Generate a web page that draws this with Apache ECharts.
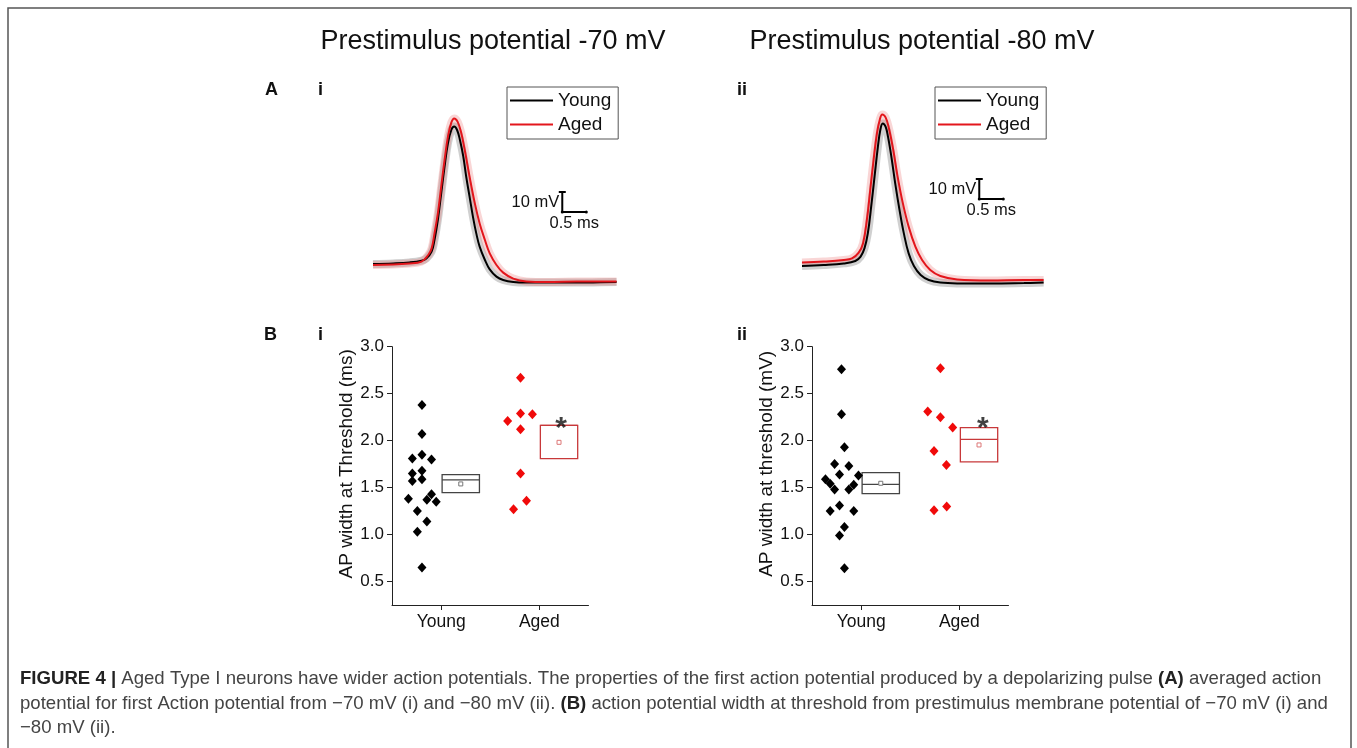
<!DOCTYPE html>
<html>
<head>
<meta charset="utf-8">
<script src="https://cdn.jsdelivr.net/npm/echarts@6/dist/echarts.min.js"></script>
<style>
html,body{margin:0;padding:0;background:#fff;}
#c{width:1357px;height:748px;}
</style>
</head>
<body>
<div id="c"></div>
<script>
// ---------- DATA ----------
// Panel A: averaged action potentials (time in ms, membrane potential in mV)
const youngTraceI = [[0.00,-70.0],[0.42,-69.7],[0.76,-69.2],[1.01,-68.3],[1.11,-67.2],[1.22,-63.8],[1.28,-58.0],[1.35,-48.0],[1.42,-34.7],[1.49,-21.3],[1.56,-9.7],[1.63,-3.0],[1.69,-1.3],[1.75,-3.0],[1.81,-8.0],[1.88,-16.3],[1.94,-26.3],[2.01,-36.3],[2.08,-46.3],[2.15,-54.7],[2.22,-61.3],[2.33,-68.0],[2.43,-72.7],[2.57,-76.3],[2.71,-78.0],[2.92,-79.0],[3.19,-79.3],[3.89,-79.3],[4.58,-79.2],[5.07,-79.0]];
const agedTraceI = [[0.00,-70.5],[0.76,-69.7],[1.01,-68.8],[1.15,-65.5],[1.22,-62.2],[1.28,-54.7],[1.35,-44.7],[1.42,-31.3],[1.49,-18.0],[1.56,-6.3],[1.63,0.7],[1.69,2.8],[1.76,1.2],[1.83,-3.8],[1.91,-13.0],[2.01,-26.3],[2.12,-39.7],[2.22,-49.7],[2.33,-58.0],[2.43,-64.7],[2.57,-70.5],[2.71,-74.3],[2.92,-77.3],[3.19,-78.7],[3.61,-79.0],[4.24,-78.8],[5.07,-78.7]];
const youngTraceII = [[0.00,-80.0],[0.45,-79.5],[0.87,-78.7],[1.11,-77.5],[1.22,-75.3],[1.30,-71.2],[1.37,-63.7],[1.44,-50.3],[1.51,-35.3],[1.58,-20.3],[1.63,-12.0],[1.68,-8.7],[1.74,-10.3],[1.79,-15.3],[1.86,-25.3],[1.94,-38.7],[2.03,-52.0],[2.12,-63.7],[2.22,-73.7],[2.33,-80.0],[2.47,-84.5],[2.64,-87.0],[2.88,-88.3],[3.23,-88.7],[3.92,-88.7],[4.62,-88.5],[5.03,-88.3]];
const agedTraceII = [[0.00,-78.3],[0.45,-77.8],[0.87,-77.0],[1.04,-76.2],[1.18,-73.3],[1.27,-68.7],[1.35,-57.0],[1.42,-42.0],[1.49,-27.0],[1.56,-13.7],[1.62,-6.7],[1.67,-4.2],[1.74,-5.7],[1.81,-11.2],[1.90,-22.0],[1.99,-35.3],[2.10,-48.7],[2.22,-60.3],[2.36,-70.3],[2.50,-77.0],[2.67,-82.0],[2.88,-85.0],[3.23,-86.7],[3.92,-87.2],[4.62,-87.0],[5.03,-87.0]];
// scale bars: 10 mV vertical, 0.5 ms horizontal
const scaleBarI = [[3.94,-34],[3.94,-39],[3.94,-44],[4.19,-44],[4.44,-44]];
const scaleBarII = [[3.69,-36.5],[3.69,-41.5],[3.69,-46.5],[3.94,-46.5],[4.19,-46.5]];

// Panel B: AP width at threshold, individual cells (x = jittered group position, y = width)
const groupCats = ['Young', 'Aged'];
const yTicks = [0.5, 1.0, 1.5, 2.0, 2.5, 3.0];
const youngWidthI = [[0.805,2.38],[0.805,2.07],[0.707,1.81],[0.805,1.85],[0.902,1.80],[0.707,1.65],[0.805,1.68],[0.707,1.57],[0.805,1.59],[0.667,1.38],[0.902,1.43],[0.855,1.37],[0.95,1.35],[0.758,1.25],[0.855,1.14],[0.758,1.03],[0.805,0.65]];
const agedWidthI = [[1.808,2.67],[1.677,2.21],[1.808,2.29],[1.929,2.28],[1.808,2.12],[1.808,1.65],[1.737,1.27],[1.869,1.36]];
const youngWidthII = [[0.80,2.76],[0.80,2.28],[0.83,1.93],[0.73,1.75],[0.875,1.73],[0.78,1.64],[0.973,1.63],[0.637,1.59],[0.685,1.54],[0.925,1.53],[0.73,1.48],[0.875,1.48],[0.78,1.31],[0.685,1.25],[0.925,1.25],[0.83,1.08],[0.78,0.99],[0.83,0.64]];
const agedWidthII = [[1.807,2.77],[1.678,2.31],[1.807,2.25],[1.932,2.14],[1.742,1.89],[1.868,1.74],[1.742,1.26],[1.871,1.30]];
// box summaries: [q1, median, q3, mean]
const youngBoxI = [1.447, 1.582, 1.638, 1.539];
const agedBoxI = [1.809, 2.163, 2.163, 1.982];
const youngBoxII = [1.436, 1.535, 1.660, 1.546];
const agedBoxII = [1.773, 2.014, 2.138, 1.954];
// significance markers [x, y]
const starI = [2.22, 2.23];
const starII = [2.24, 2.23];

// ---------- CHART ----------
const chart = echarts.init(document.getElementById('c'));
const FONT = 'Liberation Sans, Arial, sans-serif';
const RED = '#e3161c';
const BOX_HALF = 0.19;

function boxRender(strokeColor, meanColor) {
  return function (params, api) {
    const xc = api.value(0), q1 = api.value(1), med = api.value(2), q3 = api.value(3), mean = api.value(4);
    const tl = api.coord([xc - BOX_HALF, q3]);
    const br = api.coord([xc + BOX_HALF, q1]);
    const m1 = api.coord([xc - BOX_HALF, med]);
    const m2 = api.coord([xc + BOX_HALF, med]);
    const mp = api.coord([xc, mean]);
    return {
      type: 'group',
      children: [
        {type: 'rect', shape: {x: tl[0], y: tl[1], width: br[0] - tl[0], height: br[1] - tl[1]},
          style: {fill: 'none', stroke: strokeColor, lineWidth: 1.3}},
        {type: 'line', shape: {x1: m1[0], y1: m1[1], x2: m2[0], y2: m2[1]},
          style: {stroke: strokeColor, lineWidth: 1.3}},
        {type: 'rect', shape: {x: mp[0] - 2, y: mp[1] - 2, width: 4, height: 4},
          style: {fill: '#fff', stroke: meanColor, lineWidth: 1}}
      ]
    };
  };
}

function traceGrid(idx) {
  return [
    {name: 'Young band ' + idx, type: 'line', data: idx === 0 ? youngTraceI : youngTraceII, xAxisIndex: idx, yAxisIndex: idx,
      smooth: 0.4, symbol: 'none', silent: true, lineStyle: {color: 'rgba(120,120,120,0.35)', width: 8}, z: 1},
    {name: 'Aged band ' + idx, type: 'line', data: idx === 0 ? agedTraceI : agedTraceII, xAxisIndex: idx, yAxisIndex: idx,
      smooth: 0.4, symbol: 'none', silent: true, lineStyle: {color: 'rgba(235,120,120,0.3)', width: 8}, z: 1},
    {name: 'Young', type: 'line', data: idx === 0 ? youngTraceI : youngTraceII, xAxisIndex: idx, yAxisIndex: idx,
      smooth: 0.4, symbol: 'none', lineStyle: {color: '#000', width: 2}, itemStyle: {color: '#000'}, z: 3},
    {name: 'Aged', type: 'line', data: idx === 0 ? agedTraceI : agedTraceII, xAxisIndex: idx, yAxisIndex: idx,
      smooth: 0.4, symbol: 'none', lineStyle: {color: RED, width: 2}, itemStyle: {color: RED}, z: 4},
    {name: 'scale ' + idx, type: 'line', xAxisIndex: idx, yAxisIndex: idx, symbol: 'circle', symbolSize: 3,
      showSymbol: true, lineStyle: {color: '#000', width: 2}, itemStyle: {color: '#000'}, z: 5,
      data: (idx === 0 ? scaleBarI : scaleBarII).map(function (p, i) {
        if (i === 1) return {value: p, symbolSize: 0, label: {show: true, position: 'left', distance: 3, formatter: '10 mV', fontSize: 16.5, color: '#111', fontFamily: FONT}};
        if (i === 3) return {value: p, symbolSize: 0, label: {show: true, position: 'bottom', distance: 3, formatter: '0.5 ms', fontSize: 16.5, color: '#111', fontFamily: FONT}};
        if (i === 0) return {value: p, symbol: 'rect', symbolSize: [7, 2]};
        return {value: p};
      })}
  ];
}

function scatterGrid(idx, young, aged, yBox, aBox, star) {
  const ax = idx + 2;
  return [
    {name: 'Young cells ' + idx, type: 'scatter', xAxisIndex: ax, yAxisIndex: ax, data: young,
      symbol: 'diamond', symbolSize: [9, 10], itemStyle: {color: '#000', opacity: 1}},
    {name: 'Aged cells ' + idx, type: 'scatter', xAxisIndex: ax, yAxisIndex: ax, data: aged,
      symbol: 'diamond', symbolSize: [9, 10], itemStyle: {color: '#f00a0a', opacity: 1}},
    {name: 'Young box ' + idx, type: 'custom', xAxisIndex: ax, yAxisIndex: ax,
      renderItem: boxRender('#444', '#777'), data: [[1.2].concat(yBox)], encode: {x: 0, y: [1, 3]}},
    {name: 'Aged box ' + idx, type: 'custom', xAxisIndex: ax, yAxisIndex: ax,
      renderItem: boxRender('#c8383a', '#d77'), data: [[2.2].concat(aBox)], encode: {x: 0, y: [1, 3]}},
    {name: 'sig ' + idx, type: 'scatter', xAxisIndex: ax, yAxisIndex: ax, data: [star], symbolSize: 0,
      label: {show: true, position: 'inside', formatter: '*', fontSize: 30, fontWeight: 'bold', color: '#111', fontFamily: FONT, offset: [0, 10]}}
  ];
}

const traceX = {type: 'value', min: 0, max: 5.1, show: false};
function catX(gi) {
  return {type: 'value', gridIndex: gi, min: 0.5, max: 2.5,
    axisLine: {show: true, lineStyle: {color: '#222', width: 1}},
    axisTick: {show: true, customValues: [1, 2], length: 5, inside: false, lineStyle: {color: '#222'}},
    axisLabel: {customValues: [1, 2], formatter: function (v) { return groupCats[Math.round(v) - 1]; },
      fontSize: 17.5, color: '#111', fontFamily: FONT, margin: 8},
    splitLine: {show: false}};
}
function valY(gi, name) {
  return {type: 'value', gridIndex: gi, min: 0.25, max: 3.0,
    name: name, nameLocation: 'middle', nameGap: 33, nameRotate: 90,
    nameTextStyle: {fontSize: 19, color: '#111', fontFamily: FONT, padding: [0, 0, 0, 24]},
    axisLine: {show: true, lineStyle: {color: '#222', width: 1}},
    axisTick: {show: true, customValues: yTicks, length: 5, lineStyle: {color: '#222'}},
    axisLabel: {customValues: yTicks, formatter: function (v) { return v.toFixed(1); },
      fontSize: 17, color: '#111', fontFamily: FONT, margin: 8},
    splitLine: {show: false}};
}

const legendBase = {
  data: ['Young', 'Aged'], orient: 'vertical', icon: 'rect', itemWidth: 43, itemHeight: 2,
  itemGap: 3, itemTextGap: 6, padding: [3, 7, 4, 3], borderColor: '#555', borderWidth: 1,
  textStyle: {fontSize: 19, color: '#111', fontFamily: FONT, lineHeight: 21},
  selectedMode: false
};

const CAP = '18.6px ' + FONT;
const capRich = {b: {fontWeight: 'bold', fill: '#222', fontSize: 18.6, fontFamily: FONT}};

const option = {
  backgroundColor: '#fff',
  animation: false,
  textStyle: {fontFamily: FONT},
  grid: [
    {left: 373, top: 84, width: 245, height: 220},
    {left: 802, top: 86, width: 245, height: 220},
    {left: 392, top: 346.7, width: 196.5, height: 258.3},
    {left: 812, top: 346.7, width: 196.5, height: 258.3}
  ],
  xAxis: [
    Object.assign({gridIndex: 0}, traceX),
    Object.assign({gridIndex: 1}, traceX),
    catX(2), catX(3)
  ],
  yAxis: [
    {type: 'value', gridIndex: 0, min: -90, max: 20, show: false},
    {type: 'value', gridIndex: 1, min: -100, max: 10, show: false},
    valY(2, 'AP width at Threshold (ms)'),
    valY(3, 'AP width at threshold (mV)')
  ],
  legend: [
    Object.assign({left: 507, top: 87}, legendBase),
    Object.assign({left: 935, top: 87}, legendBase)
  ],
  series: [].concat(
    traceGrid(0), traceGrid(1),
    scatterGrid(0, youngWidthI, agedWidthI, youngBoxI, agedBoxI, starI),
    scatterGrid(1, youngWidthII, agedWidthII, youngBoxII, agedBoxII, starII)
  ),
  graphic: [
    {type: 'rect', shape: {x: 8, y: 8, width: 1343, height: 780}, style: {fill: 'none', stroke: '#555', lineWidth: 1.5}, silent: true},
    {type: 'text', x: 493, y: 42, style: {text: 'Prestimulus potential -70 mV', font: '27px ' + FONT, fill: '#111', align: 'center', verticalAlign: 'middle'}},
    {type: 'text', x: 922, y: 42, style: {text: 'Prestimulus potential -80 mV', font: '27px ' + FONT, fill: '#111', align: 'center', verticalAlign: 'middle'}},
    {type: 'text', x: 265, y: 90, style: {text: 'A', font: 'bold 18px ' + FONT, fill: '#111', verticalAlign: 'middle'}},
    {type: 'text', x: 318, y: 90, style: {text: 'i', font: 'bold 18px ' + FONT, fill: '#111', verticalAlign: 'middle'}},
    {type: 'text', x: 737, y: 90, style: {text: 'ii', font: 'bold 18px ' + FONT, fill: '#111', verticalAlign: 'middle'}},
    {type: 'text', x: 264, y: 335, style: {text: 'B', font: 'bold 18px ' + FONT, fill: '#111', verticalAlign: 'middle'}},
    {type: 'text', x: 318, y: 335, style: {text: 'i', font: 'bold 18px ' + FONT, fill: '#111', verticalAlign: 'middle'}},
    {type: 'text', x: 737, y: 335, style: {text: 'ii', font: 'bold 18px ' + FONT, fill: '#111', verticalAlign: 'middle'}},
    {type: 'text', x: 20, y: 679, style: {
      text: '{b|FIGURE 4 |} Aged Type I neurons have wider action potentials. The properties of the first action potential produced by a depolarizing pulse {b|(A)} averaged action',
      font: CAP, fill: '#444', verticalAlign: 'middle', rich: capRich}},
    {type: 'text', x: 20, y: 704, style: {
      text: 'potential for first Action potential from \u221270 mV (i) and \u221280 mV (ii). {b|(B)} action potential width at threshold from prestimulus membrane potential of \u221270 mV (i) and',
      font: CAP, fill: '#444', verticalAlign: 'middle', rich: capRich}},
    {type: 'text', x: 20, y: 728, style: {
      text: '\u221280 mV (ii).', font: CAP, fill: '#444', verticalAlign: 'middle'}}
  ]
};
chart.setOption(option);
</script>
</body>
</html>
